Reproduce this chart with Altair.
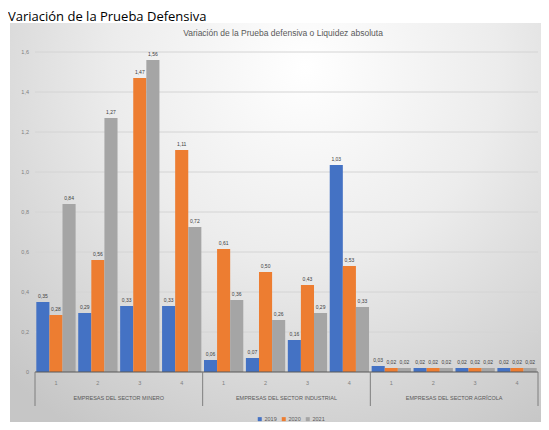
import altair as alt
import pandas as pd

header_text = "Variación de la Prueba Defensiva"
title_text = "Variación de la Prueba defensiva o Liquidez absoluta"
groups = ["EMPRESAS DEL SECTOR MINERO", "EMPRESAS DEL SECTOR INDUSTRIAL", "EMPRESAS DEL SECTOR AGRÍCOLA"]
subcats = ["1", "2", "3", "4"]
series = ["2019", "2020", "2021"]
colors = ["#4472c4", "#ed7d31", "#a5a5a5"]
s1 = [0.35, 0.295, 0.33, 0.33, 0.06, 0.07, 0.16, 1.035, 0.03, 0.02, 0.02, 0.02]
s2 = [0.285, 0.56, 1.47, 1.11, 0.615, 0.50, 0.435, 0.53, 0.02, 0.02, 0.02, 0.02]
s3 = [0.84, 1.27, 1.56, 0.725, 0.36, 0.26, 0.295, 0.325, 0.02, 0.02, 0.02, 0.02]
y_ticks = [0, 0.2, 0.4, 0.6, 0.8, 1.0, 1.2, 1.4, 1.6]

keys = [f"{gi}|{s}" for gi in range(len(groups)) for s in subcats]
rows = []
for si, vals in enumerate([s1, s2, s3]):
    for k, v in zip(keys, vals):
        rows.append({"key": k, "series": series[si], "value": v})
df = pd.DataFrame(rows)
sub_df = pd.DataFrame({"key": keys, "lab": [k.split("|")[1] for k in keys]})

xscale = alt.Scale(domain=keys, paddingInner=0, paddingOuter=0)
yscale = alt.Scale(domain=[0, 1.6], nice=False)
offscale = alt.Scale(domain=series, paddingInner=0, paddingOuter=0.1)

grad = {
    "gradient": "radial",
    "x1": 0.55, "y1": 0.2, "r1": 0,
    "x2": 0.55, "y2": 0.2, "r2": 0.8,
    "stops": [
        {"offset": 0, "color": "#ffffff"},
        {"offset": 0.45, "color": "#ececec"},
        {"offset": 1, "color": "#c6c6c6"},
    ],
}

one = alt.Data(values=[{"a": 1}])

bg = alt.Chart(one).mark_rect(color=grad).encode(
    x=alt.value(-25), x2=alt.value(512), y=alt.value(-29), y2=alt.value(380)
)

header = alt.Chart(alt.Data(values=[{"t": header_text}])).mark_text(
    align="left", baseline="alphabetic", fontSize=13, font="Open Sans", color="#000000"
).encode(x=alt.value(-27), y=alt.value(-31), text="t:N")

title = alt.Chart(alt.Data(values=[{"t": title_text}])).mark_text(
    align="center", baseline="middle", fontSize=8.5, font="Liberation Sans", color="#595959"
).encode(x=alt.value(248), y=alt.value(-19), text="t:N")

ticks_df = pd.DataFrame({"v": y_ticks})
grid = alt.Chart(ticks_df).transform_filter("datum.v > 0").mark_rule(
    color="#d4d4d4", strokeWidth=1
).encode(
    y=alt.Y("v:Q", scale=yscale, axis=None),
    x=alt.value(0), x2=alt.value(503),
)

ylabels = alt.Chart(ticks_df).transform_calculate(
    lab="datum.v == 0 ? '0' : replace(format(datum.v, '.1f'), '.', ',')"
).mark_text(align="right", baseline="middle", fontSize=5.5, color="#7f7f7f",
            font="Liberation Sans").encode(
    y=alt.Y("v:Q", scale=yscale, axis=None),
    x=alt.value(-6),
    text="lab:N",
)

bars = alt.Chart(df).mark_bar().encode(
    x=alt.X("key:N", scale=xscale, sort=keys, axis=None),
    xOffset=alt.XOffset("series:N", scale=offscale, sort=series),
    y=alt.Y("value:Q", scale=yscale, axis=None),
    color=alt.Color("series:N", sort=series, scale=alt.Scale(domain=series, range=colors),
                    legend=alt.Legend(orient="none", legendX=222, legendY=364, direction="horizontal",
                                      title=None, symbolType="square", symbolSize=16,
                                      symbolStrokeWidth=0, labelFontSize=5.5, labelColor="#595959",
                                      labelFont="Liberation Sans", columnPadding=4, labelOffset=2)),
)

labels = alt.Chart(df).transform_calculate(
    lab="replace(format(datum.value, '.2f'), '.', ',')"
).mark_text(dy=-3, baseline="bottom", fontSize=5, color="#404040", font="Liberation Sans").encode(
    x=alt.X("key:N", scale=xscale, sort=keys, axis=None),
    xOffset=alt.XOffset("series:N", scale=offscale, sort=series),
    y=alt.Y("value:Q", scale=yscale, axis=None),
    text="lab:N",
)

baseline_rule = alt.Chart(ticks_df).transform_filter("datum.v == 0").mark_rule(
    color="#595959", strokeWidth=1
).encode(
    y=alt.Y("v:Q", scale=yscale, axis=None),
    x=alt.value(0), x2=alt.value(503),
)

sublabels = alt.Chart(sub_df).mark_text(
    baseline="middle", fontSize=5.5, color="#7f7f7f", font="Liberation Sans"
).encode(
    x=alt.X("key:N", scale=xscale, sort=keys, axis=None),
    y=alt.value(331),
    text="lab:N",
)

sep_start = pd.DataFrame({"key": [f"{gi}|{subcats[0]}" for gi in range(len(groups))]})
sep_end = pd.DataFrame({"key": [keys[-1]]})
sep1 = alt.Chart(sep_start).mark_rule(color="#7f7f7f").encode(
    x=alt.X("key:N", scale=xscale, sort=keys, bandPosition=0, axis=None),
    y=alt.value(320), y2=alt.value(354),
)
sep2 = alt.Chart(sep_end).mark_rule(color="#7f7f7f").encode(
    x=alt.X("key:N", scale=xscale, sort=keys, bandPosition=1, axis=None),
    y=alt.value(320), y2=alt.value(354),
)

grp_df = pd.DataFrame({"key": [f"{gi}|{subcats[1]}" for gi in range(len(groups))], "g": groups})
grp = alt.Chart(grp_df).mark_text(fontSize=5.5, color="#595959", font="Liberation Sans").encode(
    x=alt.X("key:N", scale=xscale, sort=keys, bandPosition=1, axis=None),
    y=alt.value(346),
    text="g:N",
)

chart = alt.layer(bg, header, title, grid, ylabels, bars, labels, baseline_rule,
                  sublabels, sep1, sep2, grp).properties(
    width=503, height=320,
    autosize=alt.AutoSizeParams(type="none"),
    padding={"left": 27, "top": 44, "right": 3, "bottom": 50},
).configure(background="#ffffff").configure_view(strokeWidth=0)

chart.save("out.html", embed_options={"renderer": "svg", "actions": False})
